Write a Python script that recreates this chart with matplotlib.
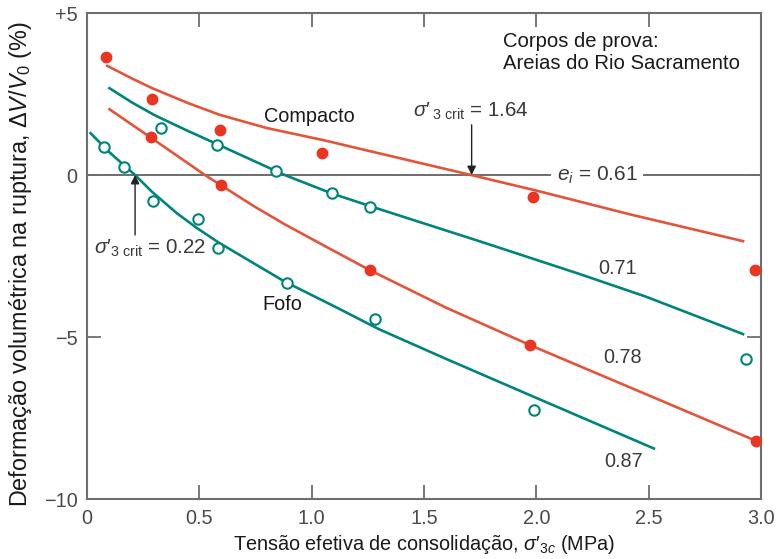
import matplotlib.pyplot as plt

plt.rcParams["font.family"] = ["Liberation Sans", "DejaVu Sans"]
plt.rcParams["mathtext.fontset"] = "custom"
plt.rcParams["mathtext.rm"] = "Liberation Sans"
plt.rcParams["mathtext.it"] = "Liberation Sans:italic"
plt.rcParams["mathtext.bf"] = "Liberation Sans:bold"

RED_LINE = "#e2553b"
RED_DOT = "#ea3522"
TEAL = "#00857c"
GREY = "#6e6e6e"
TXT = "#3a3a3a"

# e_i = 0.61 (compacto)
x_061 = [0.085, 0.29, 0.59, 1.045, 1.985, 2.975]
y_061 = [3.64, 2.35, 1.38, 0.68, -0.69, -2.93]
fit_x_061 = [0.09, 0.20, 0.29, 0.45, 0.59, 0.80, 1.05, 1.30, 1.71, 2.00, 2.42, 2.92]
fit_y_061 = [3.37, 2.98, 2.68, 2.22, 1.86, 1.45, 1.08, 0.67, 0.00, -0.48, -1.22, -2.04]

# e_i = 0.71
x_071 = [0.33, 0.58, 0.84, 1.09, 1.26, 2.935]
y_071 = [1.44, 0.93, 0.12, -0.57, -0.98, -5.68]
fit_x_071 = [0.10, 0.20, 0.30, 0.44, 0.58, 0.88, 1.09, 1.30, 1.75, 2.19, 2.49, 2.92]
fit_y_071 = [2.68, 2.24, 1.85, 1.39, 0.95, 0.00, -0.57, -1.05, -2.05, -3.05, -3.76, -4.91]

# e_i = 0.78
x_078 = [0.283, 0.595, 1.26, 1.972, 2.976]
y_078 = [1.16, -0.31, -2.94, -5.25, -8.20]
fit_x_078 = [0.10, 0.283, 0.525, 0.595, 0.74, 0.88, 1.05, 1.26, 1.60, 1.972, 2.50, 2.976]
fit_y_078 = [2.03, 1.16, 0.00, -0.31, -0.95, -1.52, -2.16, -2.94, -4.10, -5.25, -6.80, -8.20]

# e_i = 0.87 (fofo)
x_087 = [0.077, 0.166, 0.295, 0.492, 0.581, 0.89, 1.28, 1.991]
y_087 = [0.87, 0.26, -0.79, -1.35, -2.25, -3.34, -4.45, -7.25]
fit_x_087 = [0.016, 0.10, 0.214, 0.288, 0.40, 0.49, 0.585, 0.88, 1.10, 1.30, 1.60, 1.99, 2.523]
fit_y_087 = [1.29, 0.70, 0.00, -0.51, -1.18, -1.64, -2.08, -3.29, -4.05, -4.76, -5.68, -6.85, -8.44]

x_ticks = [0, 0.5, 1.0, 1.5, 2.0, 2.5, 3.0]
x_ticklabels = ["0", "0.5", "1.0", "1.5", "2.0", "2.5", "3.0"]
y_ticks = [5, 0, -5, -10]
y_ticklabels = ["+5", "0", "\u22125", "\u221210"]

fig = plt.figure(figsize=(7.81, 5.59), dpi=100)
ax = fig.add_axes([0.1114, 0.1073, 0.863, 0.8694])

ax.axhline(0, color=GREY, lw=1.4, zorder=1)

for fx, fy, px, py, kind in [
    (fit_x_061, fit_y_061, x_061, y_061, "filled"),
    (fit_x_071, fit_y_071, x_071, y_071, "open"),
    (fit_x_078, fit_y_078, x_078, y_078, "filled"),
    (fit_x_087, fit_y_087, x_087, y_087, "open"),
]:
    if kind == "filled":
        ax.plot(fx, fy, color=RED_LINE, lw=1.9, zorder=2, solid_joinstyle="round")
        ax.plot(px, py, "o", color=RED_DOT, ms=7.5, mec=RED_DOT, zorder=3)
    else:
        ax.plot(fx, fy, color=TEAL, lw=1.9, zorder=2, solid_joinstyle="round")
        ax.plot(px, py, "o", mfc="white", mec=TEAL, ms=7.5, mew=1.5, zorder=3)

fs = 14.3
ax.text(0.99, 1.80, "Compacto", ha="center", va="center", fontsize=fs, color="#1a1a1a")
ax.text(0.87, -4.0, "Fofo", ha="center", va="center", fontsize=fs, color="#1a1a1a")
ax.text(2.36, -2.9, "0.71", ha="center", va="center", fontsize=fs, color=TXT)
ax.text(2.385, -5.62, "0.78", ha="center", va="center", fontsize=fs, color=TXT)
ax.text(2.39, -8.85, "0.87", ha="center", va="center", fontsize=fs, color=TXT)
ax.text(2.27, 0.0, r"$e_i$ = 0.61", ha="center", va="center", fontsize=fs + 0.7, color=TXT,
        bbox=dict(boxstyle="square,pad=0.25", fc="white", ec="none"), zorder=4)
ax.text(1.851, 4.11, "Corpos de prova:", ha="left", va="center", fontsize=fs + 0.3,
        color="#1a1a1a")
ax.text(1.851, 3.45, "Areias do Rio Sacramento", ha="left", va="center", fontsize=fs + 0.3,
        color="#1a1a1a")

arrow = dict(arrowstyle="-|>", color="#222222", lw=1.0, mutation_scale=13,
             shrinkA=0, shrinkB=0)
ax.annotate("", xy=(1.712, 0.0), xytext=(1.712, 1.55), arrowprops=arrow, zorder=4)
ax.text(1.71, 1.98, r"$\sigma{\prime}\,{}_{3\ \mathrm{crit}}$ = 1.64", ha="center",
        va="center", fontsize=fs + 0.5, color=TXT)
ax.annotate("", xy=(0.214, 0.0), xytext=(0.214, -1.85), arrowprops=arrow, zorder=4)
ax.text(0.28, -2.25, r"$\sigma{\prime}_{3\ \mathrm{crit}}$ = 0.22", ha="center",
        va="center", fontsize=fs + 0.5, color=TXT)

ax.set_xlim(0, 3.0)
ax.set_ylim(-10, 5)
ax.set_xticks(x_ticks)
ax.set_xticklabels(x_ticklabels)
ax.set_yticks(y_ticks)
ax.set_yticklabels(y_ticklabels)
ax.tick_params(direction="in", length=10, width=1.3, color=GREY, top=True, right=True,
               labelsize=fs, labelcolor="#4a4a4a", pad=7)
for sp in ax.spines.values():
    sp.set_color(GREY)
    sp.set_linewidth(1.5)

ax.set_xlabel(r"Tensão efetiva de consolidação, $\sigma{\prime}_{3c}$ (MPa)", fontsize=fs,
              color="#1a1a1a", labelpad=4)
ax.set_ylabel(r"Deformação volumétrica na ruptura, $\Delta V/V_0$ (%)", fontsize=16.8,
              color="#1a1a1a")
ax.yaxis.set_label_coords(-0.078, 0.4835)

fig.savefig("out.png", dpi=100)
